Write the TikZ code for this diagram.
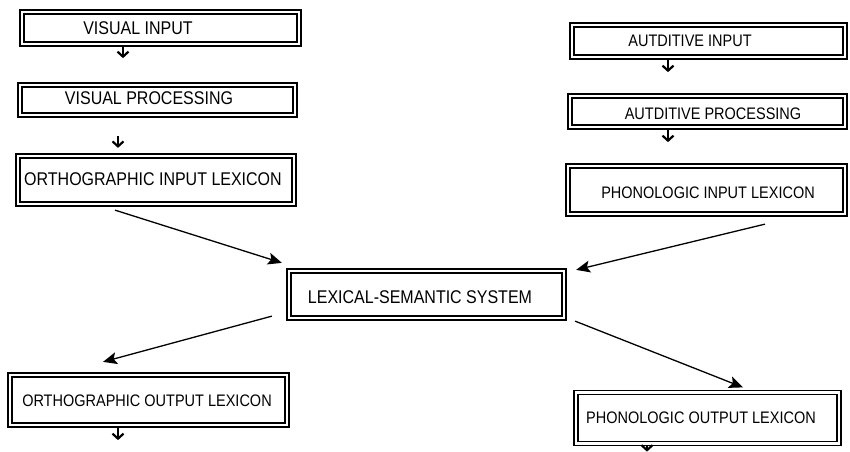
\documentclass[tikz,border=0pt]{standalone}
\usepackage{fontspec}
\setmainfont{Liberation Sans}
\usetikzlibrary{arrows.meta,calc}
\newcommand\talltext[1]{\scalebox{1}[1.15]{#1}}
\begin{document}
\begin{tikzpicture}[x=1pt,y=-1pt,
  dbox/.style={draw, double, double distance=2.6pt, line width=1.25pt, inner sep=0pt, anchor=center},
  bigtxt/.style={inner sep=0pt, anchor=base, font=\fontsize{16}{19}\selectfont},
  smalltxt/.style={inner sep=0pt, anchor=base, font=\fontsize{14.5}{17}\selectfont},
  conn/.style={line width=1.3pt, -{Stealth[length=14pt,width=12pt,inset=3pt]}},
  down/.style={line width=2.2pt, -{Straight Barb[length=5pt,width=11pt]}}]
\useasboundingbox[fill=white] (0,0) rectangle (850,451);
% boxes
\node[dbox, minimum width=277pt, minimum height=32pt] (vin) at (160.5,28) {};
\node[dbox, minimum width=275pt, minimum height=30pt] (vproc) at (157.5,100) {};
\node[dbox, minimum width=276pt, minimum height=48pt] (oin) at (156,180) {};
\node[dbox, minimum width=273pt, minimum height=32pt] (ain) at (708.5,41) {};
\node[dbox, minimum width=275pt, minimum height=31pt] (aproc) at (707.5,111.5) {};
\node[dbox, minimum width=277pt, minimum height=48pt] (pin) at (706.5,190) {};
\node[dbox, minimum width=275pt, minimum height=47pt] (lss) at (426.5,294.5) {};
\node[dbox, minimum width=277pt, minimum height=50pt] (oout) at (148.5,400) {};
\node[dbox, minimum width=263pt, minimum height=51pt] (pout) at (707.5,418) {};
% texts
\node[bigtxt] (t1) at (138,34.6) {\talltext{VISUAL INPUT}};
\node[bigtxt] (t2) at (149,104.6) {\talltext{VISUAL PROCESSING}};
\node[bigtxt] (t3) at (153,185.6) {\talltext{ORTHOGRAPHIC INPUT LEXICON}};
\node[smalltxt] (t4) at (690,46) {\talltext{AUTDITIVE INPUT}};
\node[smalltxt] (t5) at (713,119) {\talltext{AUTDITIVE PROCESSING}};
\node[smalltxt] (t6) at (708,198) {\talltext{PHONOLOGIC INPUT LEXICON}};
\node[bigtxt] (t7) at (420,303.6) {\talltext{LEXICAL-SEMANTIC SYSTEM}};
\node[smalltxt] (t8) at (147,406) {\talltext{ORTHOGRAPHIC OUTPUT LEXICON}};
\node[smalltxt] (t9) at (701,423) {\talltext{PHONOLOGIC OUTPUT LEXICON}};
% short down arrows
\draw[down] ($(vin.south)+(-37.5,2.5)$) -- ($(vin.south)+(-37.5,13.5)$);
\draw[down] ($(oin.north)+(-38,-19.5)$) -- ($(oin.north)+(-38,-7.5)$);
\draw[down] ($(ain.south)+(-40.5,2.5)$) -- ($(ain.south)+(-40.5,14.5)$);
\draw[down] ($(aproc.south)+(-39.5,2.5)$) -- ($(aproc.south)+(-39.5,14.5)$);
\draw[down] ($(oout.south)+(-30.5,2.5)$) -- ($(oout.south)+(-30.5,14.5)$);
\draw[down] ($(pout.south)+(-60.5,2)$) -- ($(pout.south)+(-60.5,7.5)$);
% connectors
\draw[conn] ($(oin.south)+(-41,5.5)$) -- ($(lss.north west)+(-6.5,-7.5)$);
\draw[conn] ($(pin.south)+(58.5,9.5)$) -- ($(lss.north east)+(11.5,-0.5)$);
\draw[conn] ($(lss.south west)+(-16.5,-2.5)$) -- ($(oout.north)+(-45.5,-12.5)$);
\draw[conn] ($(lss.south east)+(10.5,2.5)$) -- ($(pout.north)+(35.5,-4.5)$);
\end{tikzpicture}
\end{document}
